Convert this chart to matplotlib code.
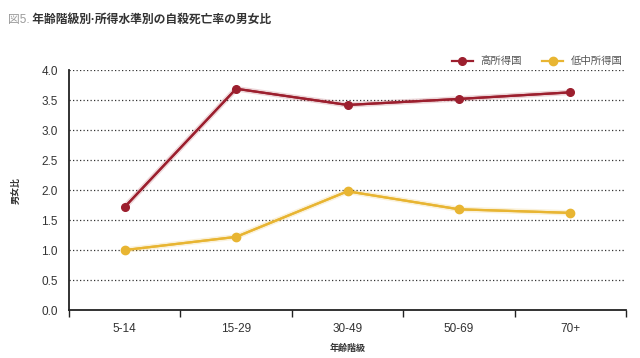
import matplotlib
matplotlib.use('Agg')
import matplotlib.pyplot as plt
import matplotlib.patheffects as pe
from matplotlib.legend_handler import HandlerLine2D
import numpy as np

plt.rcParams['font.family'] = ['Liberation Sans', 'Noto Sans CJK JP', 'DejaVu Sans']

age_groups = ['5-14', '15-29', '30-49', '50-69', '70+']
high_income = [1.72, 3.69, 3.42, 3.52, 3.63]
low_mid_income = [1.00, 1.22, 1.98, 1.68, 1.62]
series_names = ['高所得国', '低中所得国']
y_ticks = [0.0, 0.5, 1.0, 1.5, 2.0, 2.5, 3.0, 3.5, 4.0]

red = '#9c1f2e'
yellow = '#e8b532'


class LeftMarker(HandlerLine2D):
    # put the legend marker at the left end of the sample line
    def get_xdata(self, legend, xdescent, ydescent, width, height, fontsize):
        xdata, xm = super().get_xdata(legend, xdescent, ydescent, width, height, fontsize)
        return xdata, [xdata[0] + 2]


fig = plt.figure(figsize=(6.4, 3.58), dpi=100)
ax = fig.add_axes([0.108, 0.134, 0.870, 0.670])

x = np.arange(len(age_groups))
glow = [pe.Stroke(linewidth=4, alpha=0.18), pe.Normal()]
# soft halo under the lines, then the lines with markers on top
ax.plot(x, high_income, color=red, lw=1.6, path_effects=glow, zorder=3)
ax.plot(x, low_mid_income, color=yellow, lw=1.6, path_effects=glow, zorder=3)
l1, = ax.plot(x, high_income, color=red, lw=1.6, marker='o', ms=5.5,
              label=series_names[0], zorder=4)
l2, = ax.plot(x, low_mid_income, color=yellow, lw=1.6, marker='o', ms=6,
              label=series_names[1], zorder=4)

ax.set_xlim(-0.5, len(age_groups) - 0.5)
ax.set_ylim(0, 4.0)
ax.set_yticks(y_ticks)
ax.set_yticklabels([f'{v:.1f}' for v in y_ticks], fontsize=8.5, color='#333333')
ax.set_xticks(x)
ax.set_xticklabels(age_groups, fontsize=8.5, color='#333333')
ax.tick_params(axis='x', which='major', length=0, pad=9)
ax.set_xticks(np.arange(len(age_groups) + 1) - 0.5, minor=True)
ax.tick_params(axis='x', which='minor', length=5, width=1, color='#222222', direction='out')
ax.tick_params(axis='y', length=0, pad=8)

for v in y_ticks[1:]:
    ax.axhline(v, color='#333333', lw=0.9, ls=(0, (1, 1.8)), zorder=1)

for s in ['top', 'right']:
    ax.spines[s].set_visible(False)
for s in ['left', 'bottom']:
    ax.spines[s].set_linewidth(1.3)
    ax.spines[s].set_color('#222222')

ax.set_xlabel('年齢階級', fontsize=6.5, fontweight='bold', color='#333333', labelpad=7)
ax.set_ylabel('男女比', fontsize=6.5, fontweight='bold', color='#333333', labelpad=15)

leg = ax.legend(handles=[l1, l2], ncol=2, loc='lower right', bbox_to_anchor=(1.005, 0.99),
                frameon=False, fontsize=7.5, numpoints=1, handlelength=2.0,
                handletextpad=0.7, columnspacing=2.0, borderaxespad=0.2,
                handler_map={l1: LeftMarker(), l2: LeftMarker()})
for t in leg.get_texts():
    t.set_color('#555555')

t1 = fig.text(0.012, 0.935, '図5.', fontsize=8.5, color='#9a9a9a', va='baseline')
ax.annotate(' 年齢階級別·所得水準別の自殺死亡率の男女比', xy=(1, 0), xycoords=t1,
            fontsize=8.5, fontweight='bold', color='#333333', va='bottom')

fig.savefig('out.png', dpi=100)
